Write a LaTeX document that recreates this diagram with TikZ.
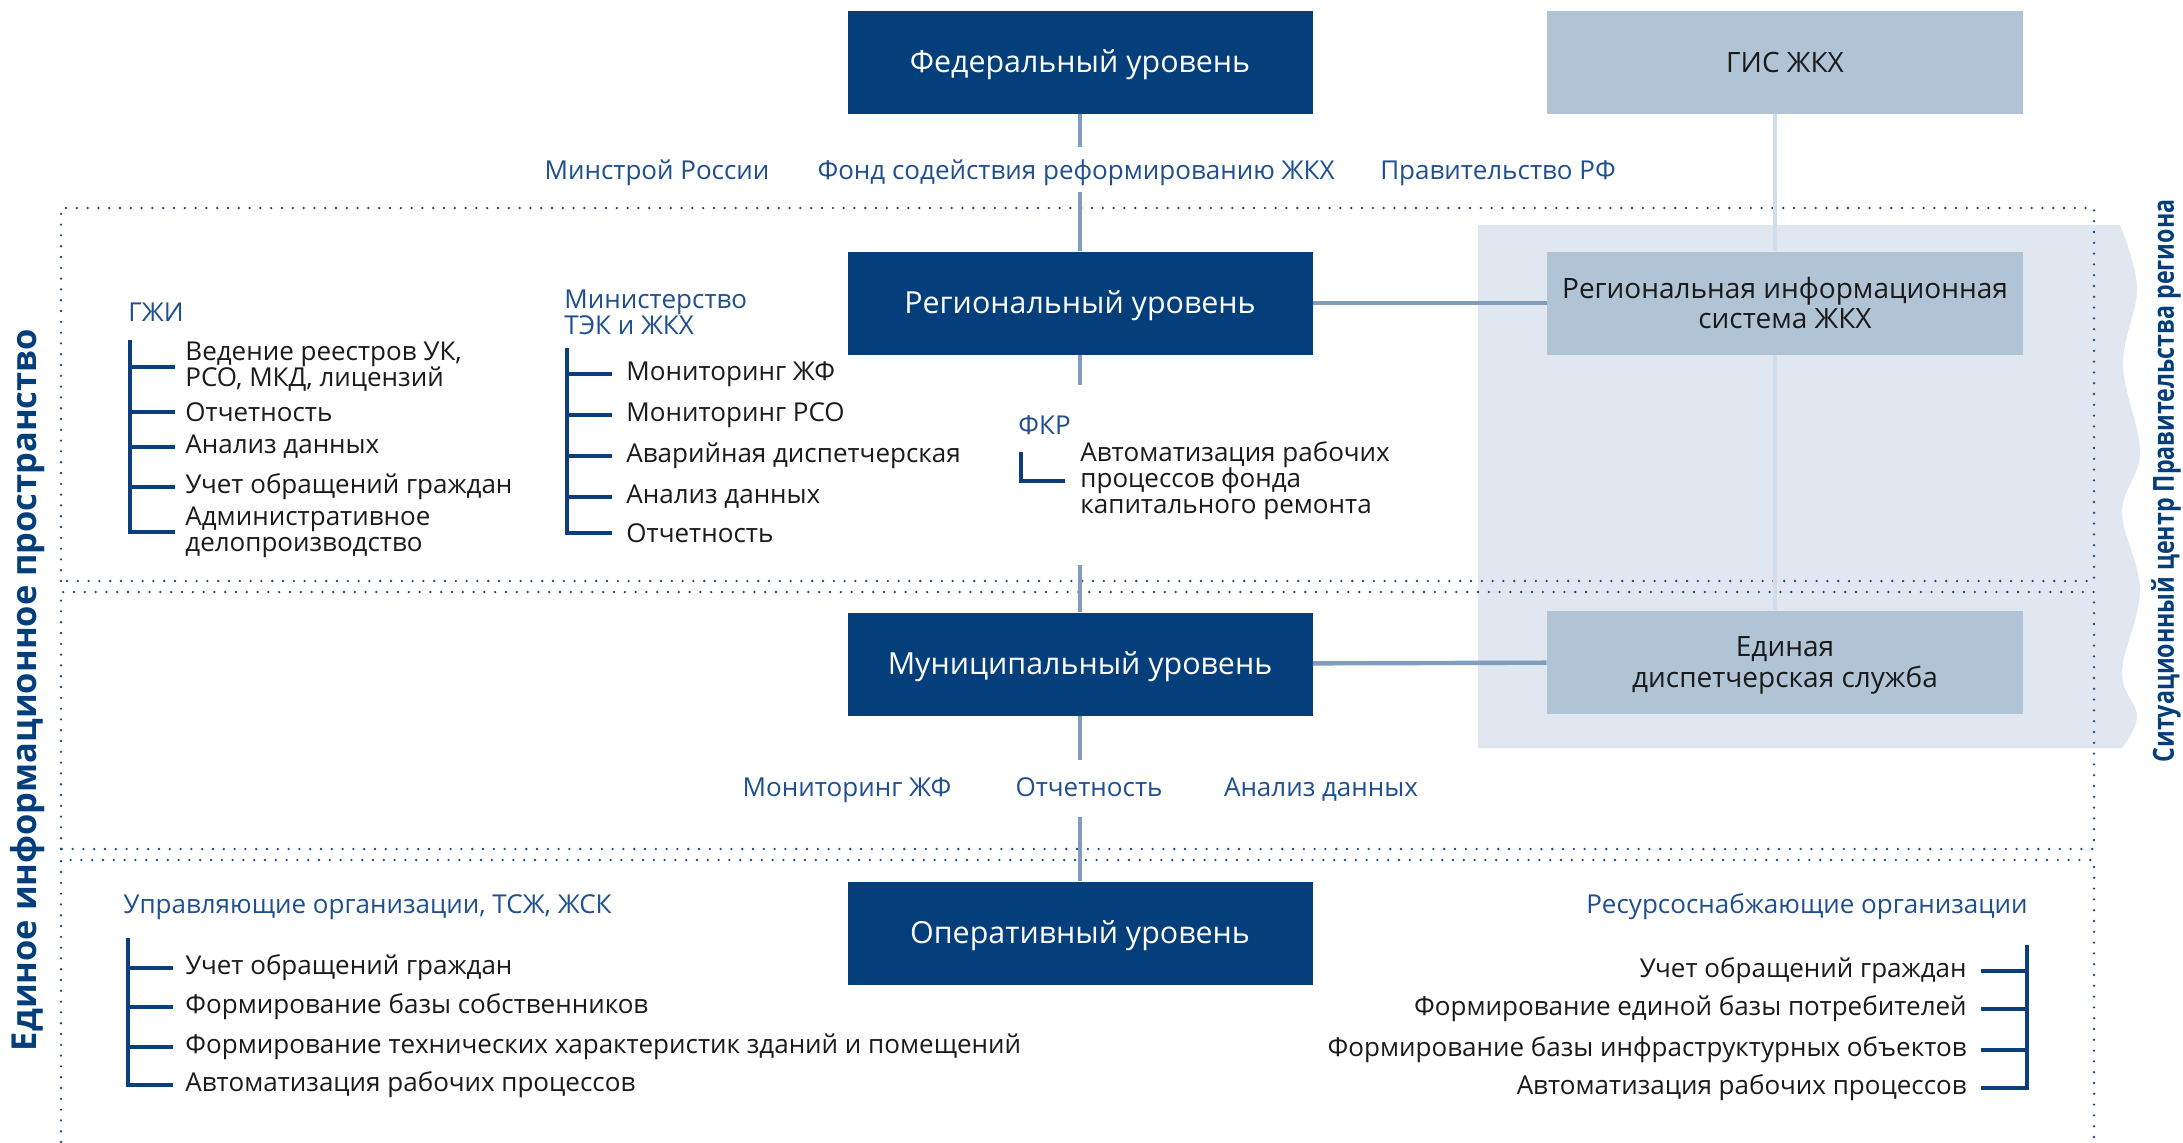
\documentclass[tikz,border=0pt]{standalone}
\usepackage{fontspec}
\setmainfont{Open Sans}
\newfontfamily\narrowsans{Open Sans}[FakeStretch=0.8]
\usetikzlibrary{positioning}

\definecolor{levelblue}{HTML}{043F7B}
\definecolor{sysgray}{HTML}{B1C4D6}
\definecolor{panelblue}{HTML}{E0E7F0}
\definecolor{linkblue}{HTML}{7F9DBC}
\definecolor{faintblue}{HTML}{D0DDEE}
\definecolor{labelblue}{HTML}{1F4F8F}
\definecolor{textdark}{HTML}{1A1A1A}
\definecolor{bracketblue}{HTML}{0B3E7A}
\definecolor{dotblue}{HTML}{1B4A86}

\tikzset{
	level/.style={rectangle, fill=levelblue, text=white, minimum width=232.5pt, minimum height=51.5pt, text height=11pt, text depth=1pt, font=\fontsize{15.2}{17}\selectfont},
	system/.style={rectangle, fill=sysgray, text=textdark, minimum width=238pt, minimum height=51.5pt, align=center, text depth=-2pt, font=\fontsize{14}{15.3}\selectfont},
	head/.style={text=labelblue, inner sep=0pt, align=left, font=\fontsize{13}{13}\selectfont},
	item/.style={text=textdark, inner sep=0pt, align=left, anchor=west, font=\fontsize{13}{13}\selectfont},
	ritem/.style={item, anchor=east, align=right},
	sidetitle/.style={text=levelblue, inner sep=0pt, font=\bfseries\fontsize{17.2}{18}\selectfont},
	narrowtitle/.style={text=levelblue, inner sep=0pt, font=\narrowsans\bfseries\fontsize{14.5}{15}\selectfont},
	stem/.style={draw=linkblue, line width=2pt},
	link/.style={draw=linkblue, line width=2.2pt},
	faint/.style={draw=faintblue, line width=1.75pt},
	bracket/.style={draw=bracketblue, line width=2.2pt},
	dotline/.style={draw=dotblue, line width=1.3pt, line cap=round, dash pattern=on 0pt off 5.4pt},
}

\begin{document}
\begin{tikzpicture}[x=0.5pt, y=-0.5pt]
	\useasboundingbox (0,0) rectangle (2183,1142);
	
	% situational centre panel
	\fill[panelblue] (1478,748) -- (1478,225) -- plot[smooth, tension=0.6] coordinates {(2120,225) (2137,288) (2123,365) (2140,452) (2122,512) (2140,590) (2122,672) (2137,716) (2122,748)} -- cycle;
	
	\draw[dotline] (61,581) rectangle (2094,208);
	\draw[dotline] (61,849) rectangle (2094,592);
	\draw[dotline] (61,1142) |- (2094,860) -- (2094,1142);
	
	\node (fed) [level] at (1080,62) {Федеральный уровень};
	\node (gis) [system] at (1785,62) {ГИС ЖКХ};
	\node (reg) [level] at (1080,303) {Региональный уровень};
	\node (ris) [system] at (1785,303) {Региональная информационная\\система ЖКХ};
	\node (mun) [level] at (1080,664) {Муниципальный уровень};
	\node (eds) [system] at (1785,662) {Единая\\диспетчерская служба};
	\node (oper) [level] at (1080,933) {Оперативный уровень};
	
	\node (minstroy) [head, anchor=base] at (657,179) {Минстрой России};
	\node (fond) [head, anchor=base] at (1076,179) {Фонд содействия реформированию ЖКХ};
	\node (pravrf) [head, anchor=base] at (1498,179) {Правительство РФ};
	
	\node (monjf) [head, anchor=base] at (847,796) {Мониторинг ЖФ};
	\node (otch) [head, anchor=base] at (1089,796) {Отчетность};
	\node (anal) [head, anchor=base] at (1321,796) {Анализ данных};
	
	% stubs between levels
	\coordinate (fedStub) at (1080,147);
	\coordinate (regTop) at (1080,192);
	\coordinate (regStub) at (1080,385);
	\coordinate (munTop) at (1080,565);
	\coordinate (munStub) at (1080,760);
	\coordinate (operTop) at (1080,817);
	
	\begin{scope}[stem]
		\draw (fed) -- (fedStub);
		\draw (regTop) -- (reg);
		\draw (reg) -- (regStub);
		\draw (munTop) -- (mun);
		\draw (mun) -- (munStub);
		\draw (operTop) -- (oper);
	\end{scope}
	
	\begin{scope}[link]
		\draw (reg) -- (ris);
		\draw (mun) -- (eds);
	\end{scope}
	
	\draw[faint] ([xshift=-5pt]gis.south) -- ([xshift=-5pt]ris.north);
	\draw[faint] ([xshift=-5pt]ris.south) -- ([xshift=-5pt]eds.north);
	
	% GZhI
	\node (gzhi) [head, anchor=west] at (128,312) {ГЖИ};
	\node (gzhi1) [item] at (185,367) {Ведение реестров УК,\\РСО, МКД, лицензий};
	\node (gzhi2) [item] at (185,412) {Отчетность};
	\node (gzhi3) [item] at (185,447) {Анализ данных};
	\node (gzhi4) [item] at (185,487) {Учет обращений граждан};
	\node (gzhi5) [item] at (185,532) {Административное\\делопроизводство};
	\coordinate (gzhiTop) at (130,340);
	\draw[bracket] (gzhiTop) |- ([xshift=-5pt]gzhi5.west);
	\foreach \i in {1,...,4}
		\draw[bracket] (gzhiTop |- gzhi\i.west) -- ([xshift=-5pt]gzhi\i.west);
	
	% ministry
	\node (mintek) [head, anchor=west] at (564,312) {Министерство\\ТЭК и ЖКХ};
	\node (min1) [item] at (626,374) {Мониторинг ЖФ};
	\node (min2) [item] at (626,415) {Мониторинг РСО};
	\node (min3) [item] at (626,456) {Аварийная диспетчерская};
	\node (min4) [item] at (626,497) {Анализ данных};
	\node (min5) [item] at (626,533) {Отчетность};
	\coordinate (minTop) at (567,348);
	\draw[bracket] (minTop) |- ([xshift=-7pt]min5.west);
	\foreach \i in {1,...,4}
		\draw[bracket] (minTop |- min\i.west) -- ([xshift=-7pt]min\i.west);
	
	% FKR
	\node (fkr) [head, anchor=west] at (1018,425) {ФКР};
	\node (fkr1) [item] at (1080,481) {Автоматизация рабочих\\процессов фонда\\капитального ремонта};
	\coordinate (fkrTop) at (1021,452);
	\draw[bracket] (fkrTop) |- ([xshift=-7.5pt]fkr1.west);
	
	% managing companies
	\node (uo) [head, anchor=west] at (123,907) {Управляющие организации, ТСЖ, ЖСК};
	\node (uo1) [item] at (185,968) {Учет обращений граждан};
	\node (uo2) [item] at (185,1007) {Формирование базы собственников};
	\node (uo3) [item] at (185,1047) {Формирование технических характеристик зданий и помещений};
	\node (uo4) [item] at (185,1085) {Автоматизация рабочих процессов};
	\coordinate (uoTop) at (128,938);
	\draw[bracket] (uoTop) |- ([xshift=-6pt]uo4.west);
	\foreach \i in {1,...,3}
		\draw[bracket] (uoTop |- uo\i.west) -- ([xshift=-6pt]uo\i.west);
	
	% resource suppliers
	\node (rso) [head, anchor=east] at (2028,907) {Ресурсоснабжающие организации};
	\node (rso1) [ritem] at (1967,971) {Учет обращений граждан};
	\node (rso2) [ritem] at (1967,1009) {Формирование единой базы потребителей};
	\node (rso3) [ritem] at (1967,1050) {Формирование базы инфраструктурных объектов};
	\node (rso4) [ritem] at (1967,1088) {Автоматизация рабочих процессов};
	\coordinate (rsoTop) at (2027,945);
	\draw[bracket] (rsoTop) |- ([xshift=7pt]rso4.east);
	\foreach \i in {1,...,3}
		\draw[bracket] (rsoTop |- rso\i.east) -- ([xshift=7pt]rso\i.east);
	
	\node (eip) [sidetitle, rotate=90] at (28,690) {Единое информационное пространство};
	\node (sitc) [narrowtitle, rotate=90] at (2166,481) {Ситуационный центр Правительства региона};
\end{tikzpicture}
\end{document}
